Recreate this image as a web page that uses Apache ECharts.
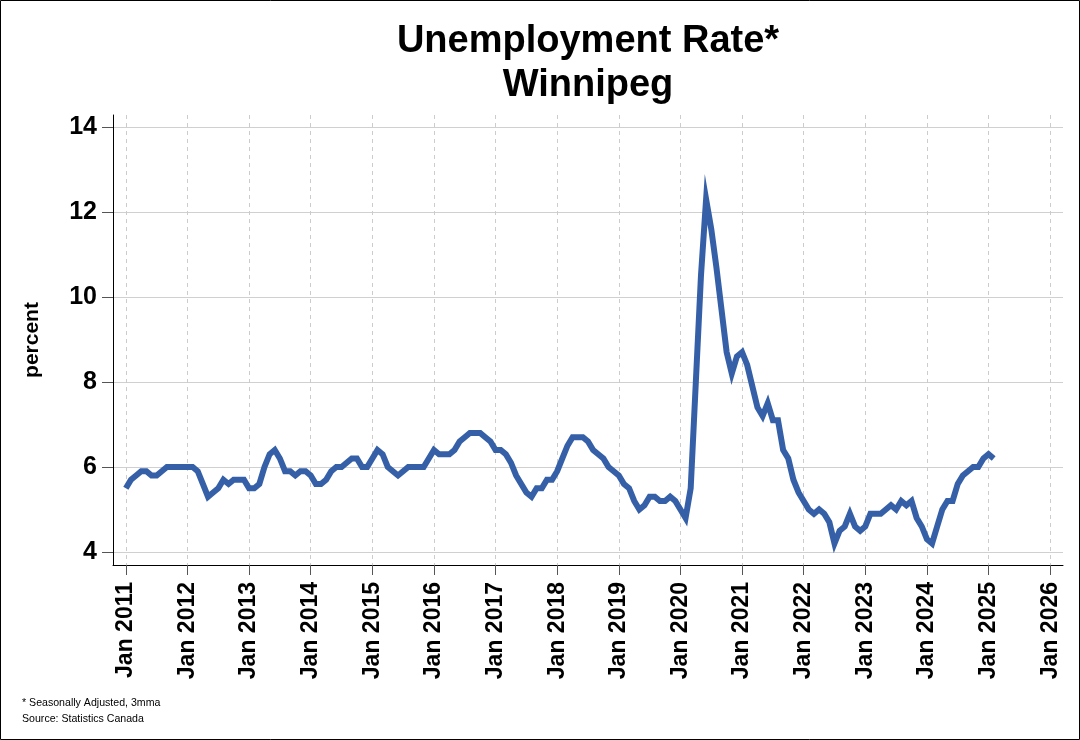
<!DOCTYPE html>
<html>
<head>
<meta charset="utf-8">
<script src="https://cdn.jsdelivr.net/npm/echarts@6/dist/echarts.min.js"></script>
<style>
html,body{margin:0;padding:0;background:#fff;}
#c{width:1080px;height:740px;}
</style>
</head>
<body>
<div id="c"></div>
<script>
// Monthly unemployment rate (%), Winnipeg, seasonally adjusted 3mma, starting Jan 2011
const startYear = 2011;
const r2011 = [5.5,5.7,5.8,5.9,5.9,5.8,5.8,5.9,6.0,6.0,6.0,6.0];
const r2012 = [6.0,6.0,5.9,5.6,5.3,5.4,5.5,5.7,5.6,5.7,5.7,5.7];
const r2013 = [5.5,5.5,5.6,6.0,6.3,6.4,6.2,5.9,5.9,5.8,5.9,5.9];
const r2014 = [5.8,5.6,5.6,5.7,5.9,6.0,6.0,6.1,6.2,6.2,6.0,6.0];
const r2015 = [6.2,6.4,6.3,6.0,5.9,5.8,5.9,6.0,6.0,6.0,6.0,6.2];
const r2016 = [6.4,6.3,6.3,6.3,6.4,6.6,6.7,6.8,6.8,6.8,6.7,6.6];
const r2017 = [6.4,6.4,6.3,6.1,5.8,5.6,5.4,5.3,5.5,5.5,5.7,5.7];
const r2018 = [5.9,6.2,6.5,6.7,6.7,6.7,6.6,6.4,6.3,6.2,6.0,5.9];
const r2019 = [5.8,5.6,5.5,5.2,5.0,5.1,5.3,5.3,5.2,5.2,5.3,5.2];
const r2020 = [5.0,4.8,5.5,8.0,10.5,12.3,11.6,10.7,9.7,8.7,8.2,8.6];
const r2021 = [8.7,8.4,7.9,7.4,7.2,7.5,7.1,7.1,6.4,6.2,5.7,5.4];
const r2022 = [5.2,5.0,4.9,5.0,4.9,4.7,4.2,4.5,4.6,4.9,4.6,4.5];
const r2023 = [4.6,4.9,4.9,4.9,5.0,5.1,5.0,5.2,5.1,5.2,4.8,4.6];
const r2024 = [4.3,4.2,4.6,5.0,5.2,5.2,5.6,5.8,5.9,6.0,6.0,6.2];
const r2025 = [6.3,6.2];

const tickYears = [2011,2012,2013,2014,2015,2016,2017,2018,2019,2020,2021,2022,2023,2024,2025,2026];
const yTicks = [4,6,8,10,12,14];
const titleLines = ['Unemployment Rate*', 'Winnipeg'];
const notes = ['* Seasonally Adjusted, 3mma', 'Source: Statistics Canada'];

const allRates = [].concat(r2011,r2012,r2013,r2014,r2015,r2016,r2017,r2018,r2019,r2020,r2021,r2022,r2023,r2024,r2025);
const seriesData = allRates.map((v, i) => [i, v]);
const xTickVals = tickYears.map(y => (y - startYear) * 12);

const chart = echarts.init(document.getElementById('c'), null, {renderer: 'canvas'});
const font = '"Liberation Sans", Arial, sans-serif';
chart.setOption({
  animation: false,
  backgroundColor: '#ffffff',
  title: {
    text: titleLines.join('\n'),
    left: 583,
    textAlign: 'center',
    top: 15,
    textStyle: {fontFamily: font, fontSize: 38, fontWeight: 'bold', color: '#000', lineHeight: 44}
  },
  grid: {left: 113, right: 17, top: 115, bottom: 175, containLabel: false},
  xAxis: {
    type: 'value',
    min: -2.5,
    max: 182.5,
    axisLine: {show: true, onZero: false, lineStyle: {color: '#000', width: 1}},
    axisTick: {show: true, customValues: xTickVals, length: 10, lineStyle: {color: '#555', width: 1}},
    axisLabel: {
      customValues: xTickVals,
      rotate: 90,
      margin: 17,
      fontFamily: font, fontSize: 23, fontWeight: 'bold', color: '#000',
      formatter: v => 'Jan ' + (startYear + Math.round(v / 12))
    },
    splitLine: {show: true, lineStyle: {color: '#cccccc', type: [4, 4], width: 1}}
  },
  yAxis: {
    type: 'value',
    min: 3.694,
    max: 14.28,
    name: 'percent',
    nameLocation: 'middle',
    nameRotate: 90,
    nameGap: 70,
    nameTextStyle: {fontFamily: font, fontSize: 21, fontWeight: 'bold', color: '#000'},
    axisLine: {show: true, onZero: false, lineStyle: {color: '#000', width: 1}},
    axisTick: {show: true, customValues: yTicks, length: 11, lineStyle: {color: '#555', width: 1}},
    axisLabel: {customValues: yTicks, margin: 16, fontFamily: font, fontSize: 25, fontWeight: 'bold', color: '#000'},
    splitLine: {show: true, lineStyle: {color: '#d0d0d0', width: 1}}
  },
  series: [{
    type: 'line',
    data: seriesData,
    showSymbol: false,
    symbol: 'none',
    lineStyle: {color: '#3560A8', width: 6, join: 'miter'},
    itemStyle: {color: '#3560A8'}
  }],
  graphic: [
    {type: 'rect', shape: {x: 0.5, y: 0.5, width: 1079, height: 739}, style: {fill: 'none', stroke: '#000', lineWidth: 1}, silent: true},
    {type: 'text', left: 22, top: 698, style: {text: notes[0], font: '10.6px ' + font, fill: '#000'}},
    {type: 'text', left: 22, top: 714, style: {text: notes[1], font: '10.6px ' + font, fill: '#000'}}
  ]
});
</script>
</body>
</html>
